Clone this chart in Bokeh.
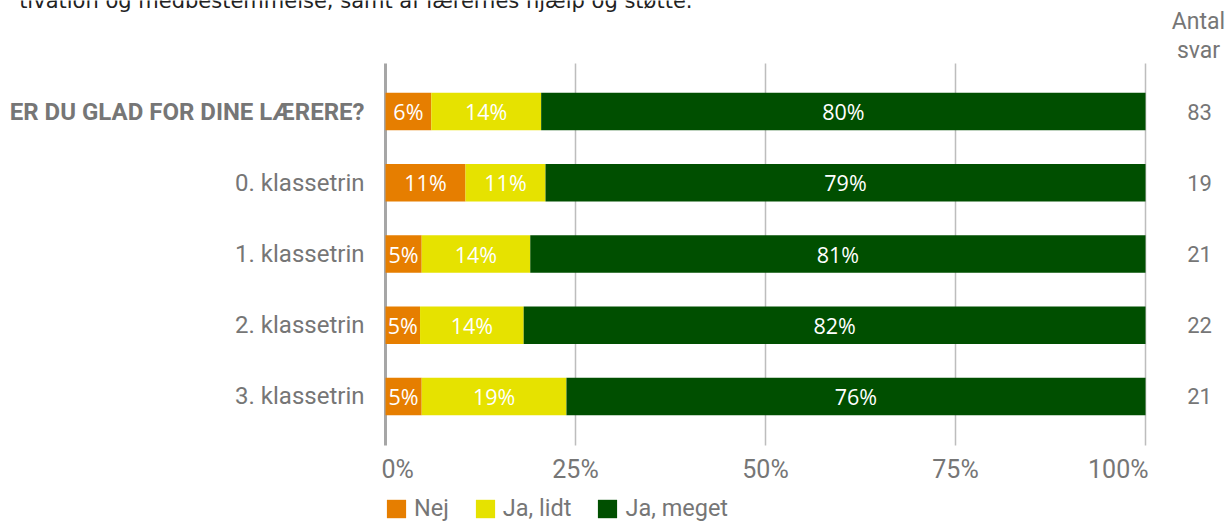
import numpy as np
from bokeh.plotting import figure
from bokeh.models import ColumnDataSource, LabelSet, Label, Range1d
from bokeh.core.properties import value
from bokeh.embed import file_html
from bokeh.resources import INLINE

# ---------------- data ----------------
categories = ["ER DU GLAD FOR DINE LÆRERE?", "0. klassetrin", "1. klassetrin",
              "2. klassetrin", "3. klassetrin"]
answers = ["Nej", "Ja, lidt", "Ja, meget"]
nej = [5, 2, 1, 1, 1]
ja_lidt = [12, 2, 3, 3, 4]
ja_meget = [66, 15, 17, 18, 16]
antal_svar = [83, 19, 21, 22, 21]
x_ticks = [0, 0.25, 0.5, 0.75, 1.0]
x_tick_labels = ["0%", "25%", "50%", "75%", "100%"]
header = ["Antal", "svar"]
subtitle_fragment = "tivation og medbestemmelse, samt af lærernes hjælp og støtte."

# ---------------- styles / layout ----------------
colors = ["#e67e00", "#e6e200", "#004f00"]
gray = "#767676"
W, H = 1228, 523
PL, PR, PT, PB = 385, 83, 63, 78          # plot-area insets (px)
pad_top, pad_bot = 0.674, 0.688           # band padding around rows
tick_align = ["left", "center", "center", "center", "right"]
tick_offset = [-4, 0, 0, 0, 3]
cat_style = ["bold", "normal", "normal", "normal", "normal"]
cat_size = ["24px", "24px", "24px", "24px", "24px"]

n = len(categories)
rows = list(range(n))
y_top = -pad_top
y_bot = (n - 1) + pad_bot
px_per_row = (H - PT - PB) / (y_bot - y_top)
px_per_x = (W - PL - PR) / 1.0

p = figure(width=W, height=H, output_backend="svg", toolbar_location=None,
           x_range=Range1d(-PL / px_per_x, 1 + PR / px_per_x),
           y_range=Range1d(y_bot + PB / px_per_row, y_top - PT / px_per_row),
           min_border=0, outline_line_color=None,
           x_axis_location=None, y_axis_location=None,
           background_fill_color="white", border_fill_color="white")
p.grid.visible = False

# grid lines (ticks) and the 0-axis line
p.segment(x0=x_ticks[1:], x1=x_ticks[1:], y0=[y_top] * (len(x_ticks) - 1),
          y1=[y_bot] * (len(x_ticks) - 1), line_color="#bdbdbd", line_width=1.5)
p.segment(x0=[x_ticks[0]], x1=[x_ticks[0]], y0=[y_top], y1=[y_bot],
          line_color="#a6a6a6", line_width=3)

tot = np.array(antal_svar, dtype=float)
left = np.zeros(n)
for name, counts, col in zip(answers, (nej, ja_lidt, ja_meget), colors):
    share = np.array(counts) / tot
    right = left + share
    src = ColumnDataSource(dict(y=rows, left=left.copy(), right=right.copy(),
                                mid=(left + right) / 2,
                                lab=[f"{int(v * 100 + 0.5)}%" for v in share]))
    p.hbar(y="y", left="left", right="right", height=0.526, fill_color=col,
           line_color=None, source=src, legend_label=name)
    p.add_layout(LabelSet(x="mid", y="y", text="lab", source=src,
                          text_align="center", text_baseline="middle",
                          text_color="white", text_font=value("Open Sans"),
                          text_font_size="21.5px"))
    left = right

# category labels
cat_src = ColumnDataSource(dict(y=rows, x=[0] * n, t=categories,
                                st=cat_style, fs=cat_size))
p.add_layout(LabelSet(x="x", y="y", text="t", source=cat_src, x_offset=-21,
                      text_align="right", text_baseline="middle",
                      text_font=value("Roboto"), text_font_style="st",
                      text_font_size="fs", text_color=gray))

# counts
cnt_src = ColumnDataSource(dict(y=rows, x=[1] * n, t=[str(v) for v in antal_svar]))
p.add_layout(LabelSet(x="x", y="y", text="t", source=cnt_src, x_offset=54,
                      text_align="center", text_baseline="middle",
                      text_font=value("Roboto"), text_font_size="22px", text_color=gray))

# x tick labels
tk_src = ColumnDataSource(dict(x=x_ticks, y=[46] * len(x_ticks), t=x_tick_labels,
                               al=tick_align, off=tick_offset))
p.add_layout(LabelSet(x="x", y="y", y_units="screen", text="t", source=tk_src,
                      x_offset="off", text_align="al", text_baseline="alphabetic",
                      text_font=value("Roboto"), text_font_size="25px", text_color=gray))

# header
for txt, yy in zip(header, [502, 473]):
    p.add_layout(Label(x=1198, y=yy, x_units="screen", y_units="screen",
                       text=txt, text_align="center", text_baseline="alphabetic",
                       text_font="Roboto", text_font_size="23px", text_color=gray))

# cut-off subtitle
p.add_layout(Label(x=692, y=523, x_units="screen", y_units="screen",
                   text=subtitle_fragment, text_align="right",
                   text_baseline="alphabetic", text_font="DejaVu Sans",
                   text_font_size="21px", text_color="#222222"))

# legend
lg = p.legend[0]
lg.orientation = "horizontal"
lg.location = (384, 1)
lg.padding = 0
lg.margin = 0
lg.spacing = 24
lg.label_standoff = 6
lg.glyph_width = 24
lg.glyph_height = 23
lg.label_height = 23
lg.label_text_font = "Roboto"
lg.label_text_font_size = "23.5px"
lg.label_text_color = gray
lg.border_line_color = None
lg.background_fill_alpha = 0

open("out.html", "w").write(file_html(p, INLINE))
